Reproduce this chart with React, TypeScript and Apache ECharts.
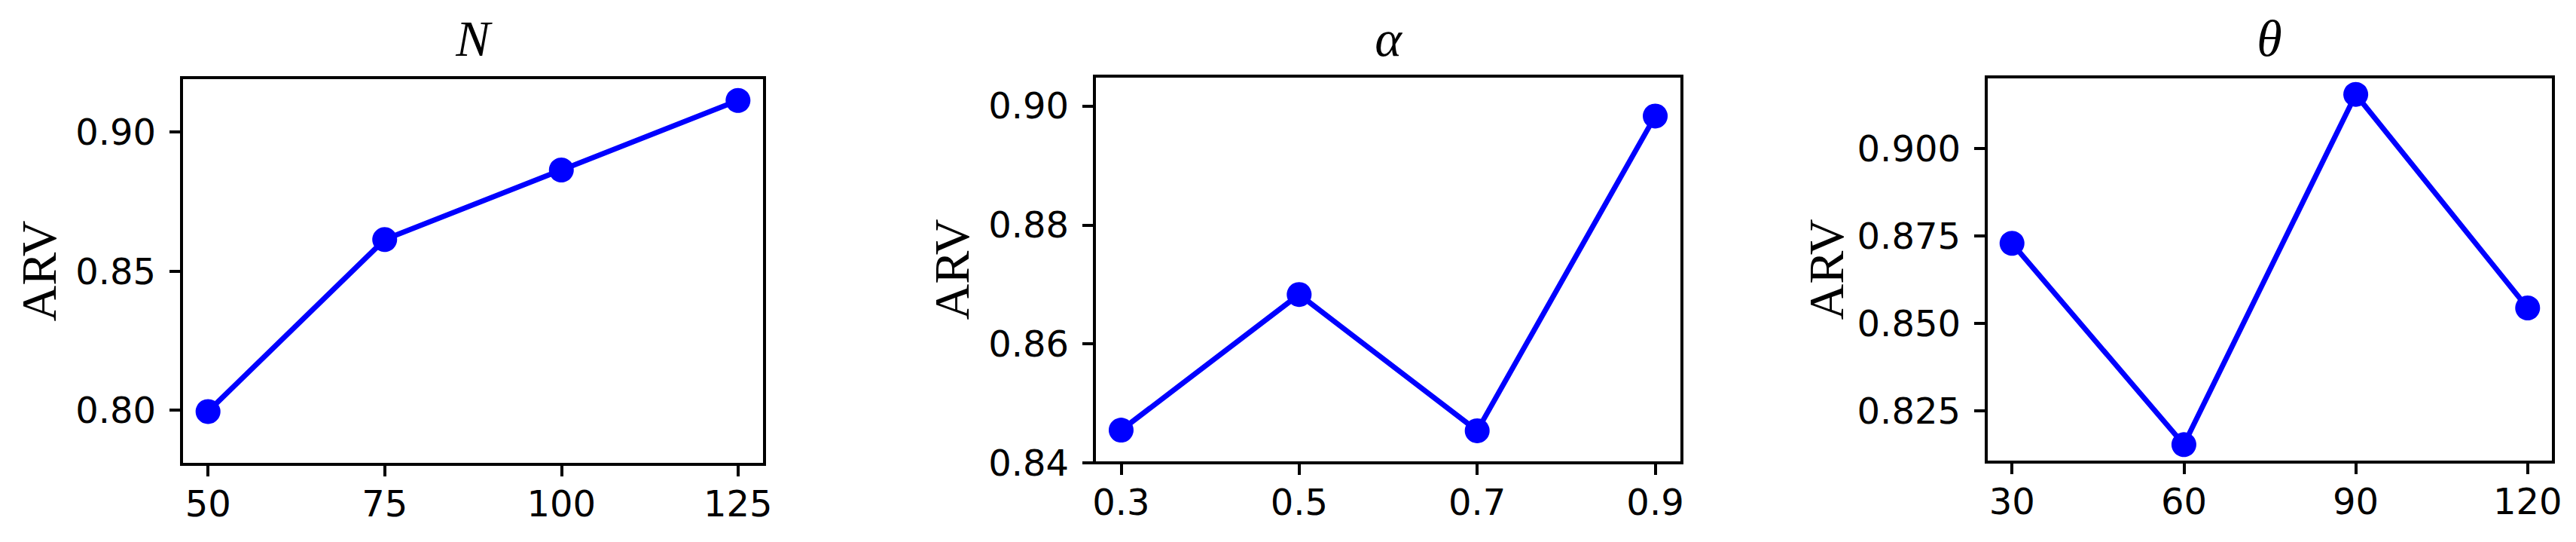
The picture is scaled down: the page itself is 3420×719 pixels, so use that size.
import React, { useEffect, useRef } from "react";
import * as echarts from "echarts";

// ---- data ----
const nValues = [50, 75, 100, 125];
const nARV = [0.7995, 0.8613, 0.8863, 0.9113];

const alphaValues = [0.3, 0.5, 0.7, 0.9];
const alphaARV = [0.8455, 0.8683, 0.8454, 0.8983];

const thetaValues = [30, 60, 90, 120];
const thetaARV = [0.8729, 0.8153, 0.9155, 0.8544];

const nYTicks = [0.8, 0.85, 0.9];
const alphaYTicks = [0.84, 0.86, 0.88, 0.9];
const thetaYTicks = [0.825, 0.85, 0.875, 0.9];

const titles = ["N", "α", "θ"];
const yName = "ARV";

export default function App() {
  const ref = useRef<HTMLDivElement>(null);

  useEffect(() => {
    if (!ref.current) return;
    const chart = echarts.init(ref.current, null, { renderer: "svg" });

    const blue = "#0000ff";
    const tickFont = { fontFamily: "DejaVu Sans", fontSize: 48, color: "#000" };

    const panels = [
      {
        grid: { left: 241, top: 103, width: 774, height: 513 },
        xs: nValues, ys: nARV, xMin: 46.25, xMax: 128.75,
        yMin: 0.7805, yMax: 0.9195, yTicks: nYTicks, yDec: 2, xFmt: (v: number) => String(v),
        nameGap: 157, titleX: 628,
      },
      {
        grid: { left: 1453, top: 101, width: 780, height: 513 },
        xs: alphaValues, ys: alphaARV, xMin: 0.27, xMax: 0.93,
        yMin: 0.84, yMax: 0.905, yTicks: alphaYTicks, yDec: 2, xFmt: (v: number) => v.toFixed(1),
        nameGap: 157, titleX: 1843,
      },
      {
        grid: { left: 2637, top: 102, width: 753, height: 511 },
        xs: thetaValues, ys: thetaARV, xMin: 25.5, xMax: 124.5,
        yMin: 0.8103, yMax: 0.9205, yTicks: thetaYTicks, yDec: 3, xFmt: (v: number) => String(v),
        nameGap: 180, titleX: 3013,
      },
    ];

    const option: any = {
      animation: false,
      backgroundColor: "#fff",
      title: panels.map((p, i) => ({
        text: titles[i],
        left: p.titleX - 5,
        top: 12,
        textAlign: "center",
        textVerticalAlign: "top",
        textStyle: {
          fontFamily: "Liberation Serif",
          fontStyle: "italic",
          fontWeight: "normal",
          fontSize: 68,
          color: "#000",
        },
      })),
      grid: panels.map((p) => ({
        ...p.grid,
        show: true,
        borderColor: "#000",
        borderWidth: 4,
        backgroundColor: "transparent",
        containLabel: false,
      })),
      xAxis: panels.map((p, i) => ({
        type: "value",
        gridIndex: i,
        min: p.xMin,
        max: p.xMax,
        axisLine: { show: false },
        splitLine: { show: false },
        axisTick: {
          show: true,
          customValues: p.xs,
          length: 16,
          lineStyle: { color: "#000", width: 4 },
        },
        axisLabel: {
          customValues: p.xs,
          margin: 28,
          formatter: p.xFmt,
          ...tickFont,
        },
      })),
      yAxis: panels.map((p, i) => ({
        type: "value",
        gridIndex: i,
        min: p.yMin,
        max: p.yMax,
        name: yName,
        nameLocation: "middle",
        nameRotate: 90,
        nameGap: p.nameGap,
        nameTextStyle: { fontFamily: "Liberation Serif", fontSize: 66, color: "#000" },
        axisLine: { show: false },
        splitLine: { show: false },
        axisTick: {
          show: true,
          customValues: p.yTicks,
          length: 16,
          lineStyle: { color: "#000", width: 4 },
        },
        axisLabel: {
          customValues: p.yTicks,
          margin: 34,
          formatter: (v: number) => v.toFixed(p.yDec),
          ...tickFont,
        },
      })),
      series: panels.map((p, i) => ({
        type: "line",
        xAxisIndex: i,
        yAxisIndex: i,
        data: p.xs.map((x, k) => [x, p.ys[k]]),
        symbol: "circle",
        symbolSize: 33,
        showSymbol: true,
        clip: false,
        lineStyle: { color: blue, width: 7 },
        itemStyle: { color: blue },
      })),
    };

    chart.setOption(option);
    return () => chart.dispose();
  }, []);

  return (
    <div
      ref={ref}
      style={{ position: "fixed", left: 0, top: 0, width: 3420, height: 719, background: "#fff" }}
    />
  );
}
